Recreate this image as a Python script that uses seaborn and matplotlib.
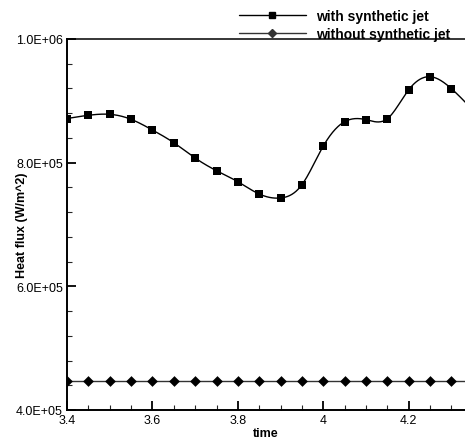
import numpy as np
import pandas as pd
import matplotlib
matplotlib.use("Agg")
import matplotlib.pyplot as plt
from matplotlib.lines import Line2D
from matplotlib.ticker import FuncFormatter, MultipleLocator
import seaborn as sns

# Sampled heat flux at the wall (W/m^2)
time = [3.40, 3.45, 3.50, 3.55, 3.60, 3.65, 3.70, 3.75, 3.80, 3.85,
        3.90, 3.95, 4.00, 4.05, 4.10, 4.15, 4.20, 4.25, 4.30, 4.35]
with_jet = [871400, 876600, 878200, 870100, 852800, 832300, 807500, 787000,
            769200, 749300, 742900, 764400, 826900, 866300, 869500, 871100,
            918000, 939000, 919600, 885000]
without_jet = [447000] * len(time)

labels = ["with synthetic jet", "without synthetic jet"]


def natural_spline(x, y, n=600):
    """Natural cubic spline through (x, y), evaluated on a fine grid."""
    x = np.asarray(x, float)
    y = np.asarray(y, float)
    h = np.diff(x)
    k = len(x)
    A = np.zeros((k, k))
    b = np.zeros(k)
    A[0, 0] = A[-1, -1] = 1.0
    for i in range(1, k - 1):
        A[i, i - 1] = h[i - 1]
        A[i, i] = 2 * (h[i - 1] + h[i])
        A[i, i + 1] = h[i]
        b[i] = 6 * ((y[i + 1] - y[i]) / h[i] - (y[i] - y[i - 1]) / h[i - 1])
    M = np.linalg.solve(A, b)
    xs = np.linspace(x[0], x[-1], n)
    idx = np.clip(np.searchsorted(x, xs) - 1, 0, k - 2)
    x0, x1 = x[idx], x[idx + 1]
    hh = x1 - x0
    t0, t1 = x1 - xs, xs - x0
    ys = (M[idx] * t0 ** 3 + M[idx + 1] * t1 ** 3) / (6 * hh) \
        + (y[idx] / hh - M[idx] * hh / 6) * t0 \
        + (y[idx + 1] / hh - M[idx + 1] * hh / 6) * t1
    return xs, ys


sns.set_theme(style="white")
plt.rcParams["font.family"] = ["Liberation Sans", "DejaVu Sans"]
plt.rcParams["text.color"] = "black"
plt.rcParams["axes.labelcolor"] = "black"

fig = plt.figure(figsize=(4.65, 4.39), dpi=100)
ax = fig.add_axes([67 / 465, 28 / 439, 398 / 465, 371 / 439])

pts = pd.DataFrame({"time": time, "with": with_jet, "without": without_jet})
xs, ys = natural_spline(time, with_jet)
curve = pd.DataFrame({"time": xs, "flux": ys})

sns.lineplot(data=curve, x="time", y="flux", ax=ax, color="black",
             linewidth=1.0, estimator=None, sort=False)
sns.scatterplot(data=pts, x="time", y="with", ax=ax, marker="s", s=30,
                color="black", edgecolor="black", linewidth=0, zorder=3)
sns.lineplot(data=pts, x="time", y="without", ax=ax, color="#333333",
             linewidth=1.0, estimator=None)
sns.scatterplot(data=pts, x="time", y="without", ax=ax, marker="D", s=30,
                color="black", edgecolor="black", linewidth=0, zorder=3)

ax.set_xlim(3.4, 4.3317)
ax.set_ylim(4.0e5, 1.0e6)

ax.xaxis.set_major_locator(MultipleLocator(0.2))
ax.xaxis.set_minor_locator(MultipleLocator(0.05))
ax.yaxis.set_major_locator(MultipleLocator(2.0e5))
ax.yaxis.set_minor_locator(MultipleLocator(4.0e4))
ax.xaxis.set_major_formatter(FuncFormatter(lambda v, p: f"{v:g}"))
ax.yaxis.set_major_formatter(FuncFormatter(lambda v, p: f"{v:.1E}"))

ax.tick_params(which="major", direction="in", length=6.5, width=1.3,
               labelsize=9, colors="black", pad=3, bottom=True, left=True)
ax.tick_params(which="minor", direction="in", length=3.5, width=0.8,
               bottom=True, left=True)

for side in ("left", "bottom"):
    ax.spines[side].set_linewidth(1.4)
    ax.spines[side].set_color("black")
ax.spines["top"].set_linewidth(1.1)
ax.spines["top"].set_color("black")
ax.spines["right"].set_visible(False)

ax.set_xlabel("time", fontsize=9, fontweight="bold", labelpad=0.5)
ax.set_ylabel("Heat flux (W/m^2)", fontsize=9, fontweight="bold")
ax.yaxis.set_label_coords(-0.098, 0.5)

handles = [
    Line2D([], [], color="black", lw=1.0, marker="s", markersize=5),
    Line2D([], [], color="#333333", lw=1.0, marker="D", markersize=4.5),
]
fig.legend(handles, labels, loc="upper left",
           bbox_to_anchor=(239 / 465, 0.978), bbox_transform=fig.transFigure,
           frameon=False, borderpad=0, borderaxespad=0, handlelength=4.8,
           handletextpad=0.75, labelspacing=0.3,
           prop={"size": 10, "weight": "bold"})

fig.savefig("out.png", dpi=100)
